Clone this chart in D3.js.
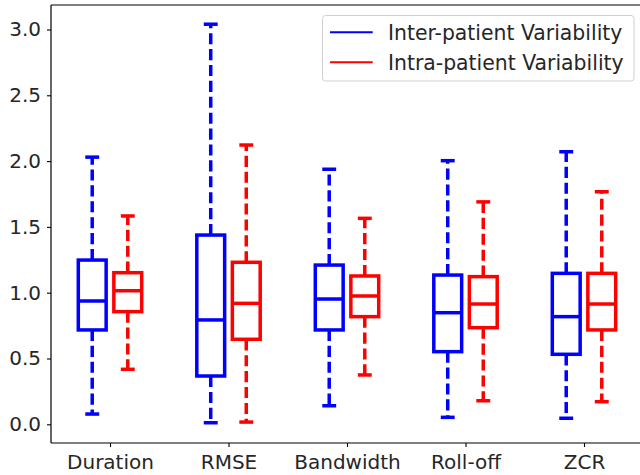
<!DOCTYPE html>
<html>
<head>
<meta charset="utf-8">
<script src="https://cdn.jsdelivr.net/npm/d3@7"></script>
<style>
  html, body { margin: 0; padding: 0; background: #fff; }
  svg { display: block; font-family: "DejaVu Sans", sans-serif; }
</style>
</head>
<body>
<svg id="chart" width="640" height="475"></svg>
<script>
const categories = ["Duration", "RMSE", "Bandwidth", "Roll-off", "ZCR"];
const seriesNames = ["Inter-patient Variability", "Intra-patient Variability"];
const seriesColors = ["#0000ff", "#ff0000"];

// Inter-patient Variability: whisker low, Q1, median, Q3, whisker high
const interLow  = [0.078, 0.012, 0.141, 0.053, 0.046];
const interQ1   = [0.717, 0.367, 0.717, 0.552, 0.532];
const interMed  = [0.937, 0.793, 0.952, 0.848, 0.818];
const interQ3   = [1.248, 1.438, 1.210, 1.134, 1.147];
const interHigh = [2.030, 3.040, 1.938, 2.003, 2.071];

// Intra-patient Variability
const intraLow  = [0.418, 0.017, 0.375, 0.179, 0.172];
const intraQ1   = [0.856, 0.646, 0.818, 0.734, 0.717];
const intraMed  = [1.015, 0.919, 0.975, 0.914, 0.914];
const intraQ3   = [1.152, 1.231, 1.127, 1.122, 1.147];
const intraHigh = [1.583, 2.122, 1.565, 1.690, 1.767];

const yTicks = [0.0, 0.5, 1.0, 1.5, 2.0, 2.5, 3.0];

const series = [
  { low: interLow, q1: interQ1, med: interMed, q3: interQ3, high: interHigh, offset: -0.15 },
  { low: intraLow, q1: intraQ1, med: intraMed, q3: intraQ3, high: intraHigh, offset: 0.15 }
];

const svg = d3.select("#chart");
const plotLeft = 51, plotTop = 5, plotBottom = 443;

const x = d3.scaleLinear().domain([0.5, 5.5]).range([50.75, 643.25]);
const y = d3.scaleLinear().domain([-0.142, 3.186]).range([plotBottom, plotTop]);

const boxW = 0.235;
const capW = boxW / 2;
const lw = 3.5;

const g = svg.append("g");

series.forEach((s, si) => {
  const color = seriesColors[si];
  categories.forEach((c, i) => {
    const cx = i + 1 + s.offset;
    // whiskers (dashed)
    g.append("line")
      .attr("x1", x(cx)).attr("x2", x(cx))
      .attr("y1", y(s.q3[i])).attr("y2", y(s.high[i]))
      .attr("stroke", color).attr("stroke-width", lw)
      .attr("stroke-dasharray", "11.1,4.8");
    g.append("line")
      .attr("x1", x(cx)).attr("x2", x(cx))
      .attr("y1", y(s.q1[i])).attr("y2", y(s.low[i]))
      .attr("stroke", color).attr("stroke-width", lw)
      .attr("stroke-dasharray", "11.1,4.8");
    // caps
    [s.low[i], s.high[i]].forEach(v => {
      g.append("line")
        .attr("x1", x(cx - capW / 2)).attr("x2", x(cx + capW / 2))
        .attr("y1", y(v)).attr("y2", y(v))
        .attr("stroke", color).attr("stroke-width", lw);
    });
    // box
    g.append("rect")
      .attr("x", x(cx - boxW / 2))
      .attr("y", y(s.q3[i]))
      .attr("width", x(cx + boxW / 2) - x(cx - boxW / 2))
      .attr("height", y(s.q1[i]) - y(s.q3[i]))
      .attr("fill", "none")
      .attr("stroke", color).attr("stroke-width", lw);
    // median
    g.append("line")
      .attr("x1", x(cx - boxW / 2)).attr("x2", x(cx + boxW / 2))
      .attr("y1", y(s.med[i])).attr("y2", y(s.med[i]))
      .attr("stroke", color).attr("stroke-width", lw);
  });
});

// Axes
const axisColor = "#000";
const yAxis = d3.axisLeft(y).tickValues(yTicks).tickFormat(d3.format(".1f")).tickSize(4).tickPadding(6);
const yg = svg.append("g").attr("transform", `translate(${plotLeft},0)`).call(yAxis);
yg.select(".domain").remove();
yg.selectAll(".tick line").attr("stroke", axisColor).attr("stroke-width", 1.1);
yg.selectAll(".tick text").attr("font-size", 20).attr("fill", "#262626").attr("font-family", "DejaVu Sans");

const xAxis = d3.axisBottom(x).tickValues(categories.map((c, i) => i + 1))
  .tickFormat((d, i) => categories[i]).tickSize(4).tickPadding(8);
const xg = svg.append("g").attr("transform", `translate(0,${plotBottom})`).call(xAxis);
xg.select(".domain").remove();
xg.selectAll(".tick line").attr("stroke", axisColor).attr("stroke-width", 1.1);
xg.selectAll(".tick text").attr("font-size", 20).attr("fill", "#262626").attr("font-family", "DejaVu Sans");

// Spines
svg.append("line").attr("x1", plotLeft).attr("x2", plotLeft).attr("y1", plotTop).attr("y2", plotBottom)
  .attr("stroke", axisColor).attr("stroke-width", 1.2);
svg.append("line").attr("x1", plotLeft).attr("x2", 640).attr("y1", plotBottom).attr("y2", plotBottom)
  .attr("stroke", axisColor).attr("stroke-width", 1.2);
svg.append("line").attr("x1", plotLeft).attr("x2", 640).attr("y1", plotTop).attr("y2", plotTop)
  .attr("stroke", axisColor).attr("stroke-width", 1.2);

// Legend
const lg = svg.append("g");
lg.append("rect").attr("x", 322.5).attr("y", 15.5).attr("width", 311.5).attr("height", 65.5)
  .attr("rx", 3).attr("fill", "#fff").attr("fill-opacity", 0.8)
  .attr("stroke", "#d0d0d0").attr("stroke-width", 1);
seriesNames.forEach((name, i) => {
  const yy = 32.3 + i * 30;
  lg.append("line").attr("x1", 330).attr("x2", 372.7).attr("y1", yy).attr("y2", yy)
    .attr("stroke", seriesColors[i]).attr("stroke-width", 2);
  lg.append("text").attr("x", 388).attr("y", 40 + i * 30)
    .attr("font-size", 20.4).attr("fill", "#262626").text(name);
});
</script>
</body>
</html>
